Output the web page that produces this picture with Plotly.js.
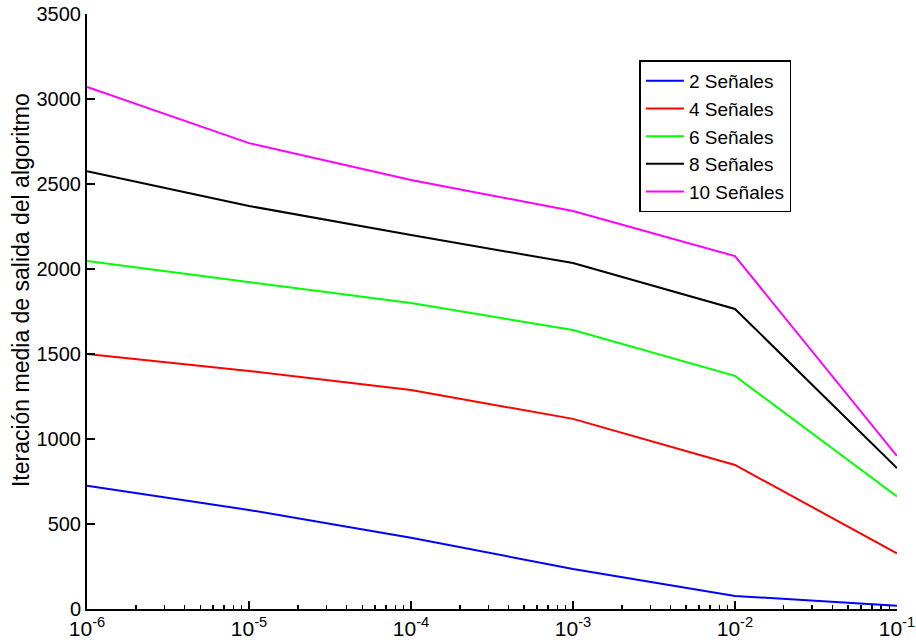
<!DOCTYPE html>
<html>
<head>
<meta charset="utf-8">
<script src="https://cdn.plot.ly/plotly-3.0.1.min.js"></script>
<style>html,body{margin:0;padding:0;background:#fff;}#chart{width:916px;height:644px;}</style>
</head>
<body>
<div id="chart"></div>
<script>
const xValues = [1e-6, 1e-5, 1e-4, 1e-3, 1e-2, 1e-1];
const seriesNames = ["2 Señales", "4 Señales", "6 Señales", "8 Señales", "10 Señales"];
const s2 = [724, 582, 418, 235, 76, 19];
const s4 = [1500, 1400, 1288, 1118, 847, 327];
const s6 = [2047, 1924, 1800, 1641, 1371, 662];
const s8 = [2576, 2371, 2200, 2035, 1765, 829];
const s10 = [3071, 2741, 2524, 2341, 2076, 900];
const seriesColors = ["#0000ff", "#ff0000", "#00ff00", "#000000", "#ff00ff"];
const xTickVals = [1e-6, 1e-5, 1e-4, 1e-3, 1e-2, 1e-1];
const xTickText = ["10<sup>-6</sup>", "10<sup>-5</sup>", "10<sup>-4</sup>", "10<sup>-3</sup>", "10<sup>-2</sup>", "10<sup>-1</sup>"];
const yTickVals = [0, 500, 1000, 1500, 2000, 2500, 3000, 3500];
const yTitle = 'Iteración media de salida del algoritmo';

const allSeries = [s2, s4, s6, s8, s10];
const traces = allSeries.map((ys, i) => ({
  x: xValues, y: ys, type: 'scatter', mode: 'lines',
  name: seriesNames[i], line: {color: seriesColors[i], width: 2}
}));

const minorVals = [];
for (let e = -6; e < -1; e++) {
  for (let m = 2; m <= 9; m++) minorVals.push(m * Math.pow(10, e));
}

const fam = 'Arial, "Liberation Sans", sans-serif';
const layout = {
  width: 916, height: 644,
  margin: {l: 87, r: 19, t: 14, b: 35},
  paper_bgcolor: '#fff', plot_bgcolor: '#fff',
  font: {family: fam, size: 20, color: '#000'},
  showlegend: true,
  legend: {
    x: 0.682, y: 0.922, xanchor: 'left', yanchor: 'top',
    bordercolor: '#000', borderwidth: 1.5, bgcolor: '#fff',
    font: {family: fam, size: 19, color: '#000'},
    tracegroupgap: 0, itemwidth: 38
  },
  xaxis: {
    type: 'log', range: [-6.0004, -0.9996],
    tickvals: xTickVals, ticktext: xTickText,
    ticks: 'inside', ticklen: 8, tickwidth: 2, tickcolor: '#000',
    minor: {tickvals: minorVals, ticks: 'inside', ticklen: 4, tickwidth: 1.5, tickcolor: '#000', showgrid: false},
    showline: true, linecolor: '#000', linewidth: 2,
    showgrid: false, zeroline: false,
    tickfont: {family: fam, size: 21, color: '#000'}
  },
  yaxis: {
    range: [-0.8, 3500.8], tickvals: yTickVals,
    ticks: 'inside', ticklen: 8, tickwidth: 2, tickcolor: '#000',
    showline: true, linecolor: '#000', linewidth: 2,
    showgrid: false, zeroline: false,
    tickfont: {family: fam, size: 20, color: '#000'}
  },
  annotations: [{
    text: yTitle, xref: 'paper', yref: 'paper',
    x: -0.0815, y: 0.536, xanchor: 'center', yanchor: 'middle',
    textangle: -90, showarrow: false,
    font: {family: fam, size: 23, color: '#000'}
  }]
};
Plotly.newPlot('chart', traces, layout, {displayModeBar: false, staticPlot: true});
</script>
</body>
</html>
